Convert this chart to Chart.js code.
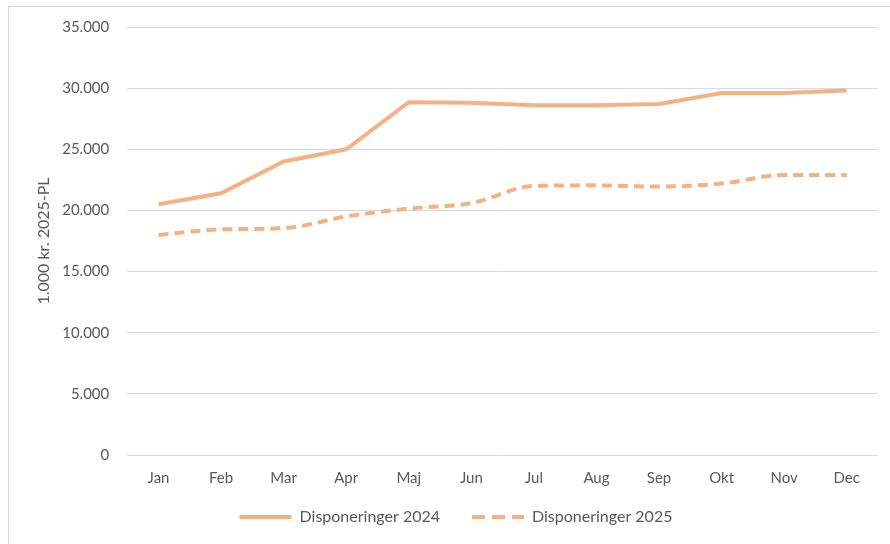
<!DOCTYPE html>
<html>
<head>
<meta charset="utf-8">
<script src="https://cdn.jsdelivr.net/npm/chart.js@4"></script>
<style>
	html, body { margin: 0; padding: 0; background: #fff; overflow: hidden; }
	#frame { position: absolute; left: 8px; top: 6px; width: 920px; height: 600px; border: 1px solid #d9d9d9; }
	#wrap { position: absolute; left: 0; top: 0; width: 890px; height: 544px; }
</style>
</head>
<body>
<div id="frame"></div>
<div id="wrap"><canvas id="chart" width="890" height="544"></canvas></div>
<script>
const months = ['Jan', 'Feb', 'Mar', 'Apr', 'Maj', 'Jun', 'Jul', 'Aug', 'Sep', 'Okt', 'Nov', 'Dec'];
const disp2024 = [20500, 21400, 24000, 25000, 28850, 28800, 28600, 28600, 28700, 29600, 29600, 29800];
const disp2025 = [18000, 18450, 18550, 19500, 20150, 20600, 22000, 22050, 21950, 22200, 22900, 22900];
const yTitle = '1.000 kr. 2025-PL';

const orange = '#f4b183';
const textColor = '#595959';
const tickFont = { family: 'Lato', size: 15 };
const bigFont = { family: 'Lato', size: 16 };

// danish thousands separator
function fmt(v) {
	return String(v).replace(/\B(?=(\d{3})+(?!\d))/g, '.');
}

let ctx = document.getElementById('chart').getContext('2d');
let chart = new Chart(ctx, {
	type: 'line',
	data: {
		labels: months,
		datasets: [{
			label: 'Disponeringer 2024',
			data: disp2024,
			borderColor: orange,
			backgroundColor: orange,
			borderWidth: 4,
			pointRadius: 0,
			tension: 0
		}, {
			label: 'Disponeringer 2025',
			data: disp2025,
			borderColor: orange,
			backgroundColor: orange,
			borderWidth: 4,
			borderDash: [10, 6],
			pointRadius: 0,
			cubicInterpolationMode: 'monotone'
		}]
	},
	options: {
		responsive: false,
		animation: false,
		layout: { padding: { top: 20, right: 12, left: 34, bottom: 9 } },
		plugins: {
			tooltip: { enabled: false },
			legend: {
				position: 'bottom',
				labels: {
					usePointStyle: true,
					pointStyle: 'line',
					pointStyleWidth: 52,
					boxHeight: 4,
					padding: 8,
					color: textColor,
					font: bigFont,
					// point styles drop the dash, so put it back
					// (en spaces after the first label give the gap between items)
					generateLabels: (c) => {
						let items = Chart.defaults.plugins.legend.labels.generateLabels(c);
						for (let it of items) {
							let ds = c.data.datasets[it.datasetIndex];
							it.lineDash = ds.borderDash ? [13, 7] : [];
							it.lineWidth = 4;
							it.strokeStyle = orange;
							if (it.datasetIndex === 0) it.text += '\u2002\u2002\u2002';
						}
						return items;
					}
				}
			}
		},
		scales: {
			x: {
				offset: true,
				grid: { display: false, drawTicks: false },
				border: { display: false },
				ticks: { color: textColor, font: tickFont, padding: 14, maxRotation: 0 }
			},
			y: {
				min: 0,
				max: 35000,
				grid: { color: '#d9d9d9', lineWidth: 1, drawTicks: false },
				border: { display: false },
				ticks: {
					stepSize: 5000,
					color: textColor,
					font: tickFont,
					padding: 18,
					callback: (v) => fmt(v)
				},
				title: { display: true, text: yTitle, color: textColor, font: bigFont, padding: 0 },
				// chart.js puts the tick padding on both sides, take some of the outer one off
				afterFit: (s) => { s.width -= 9; }
			}
		}
	}
});
</script>
</body>
</html>
